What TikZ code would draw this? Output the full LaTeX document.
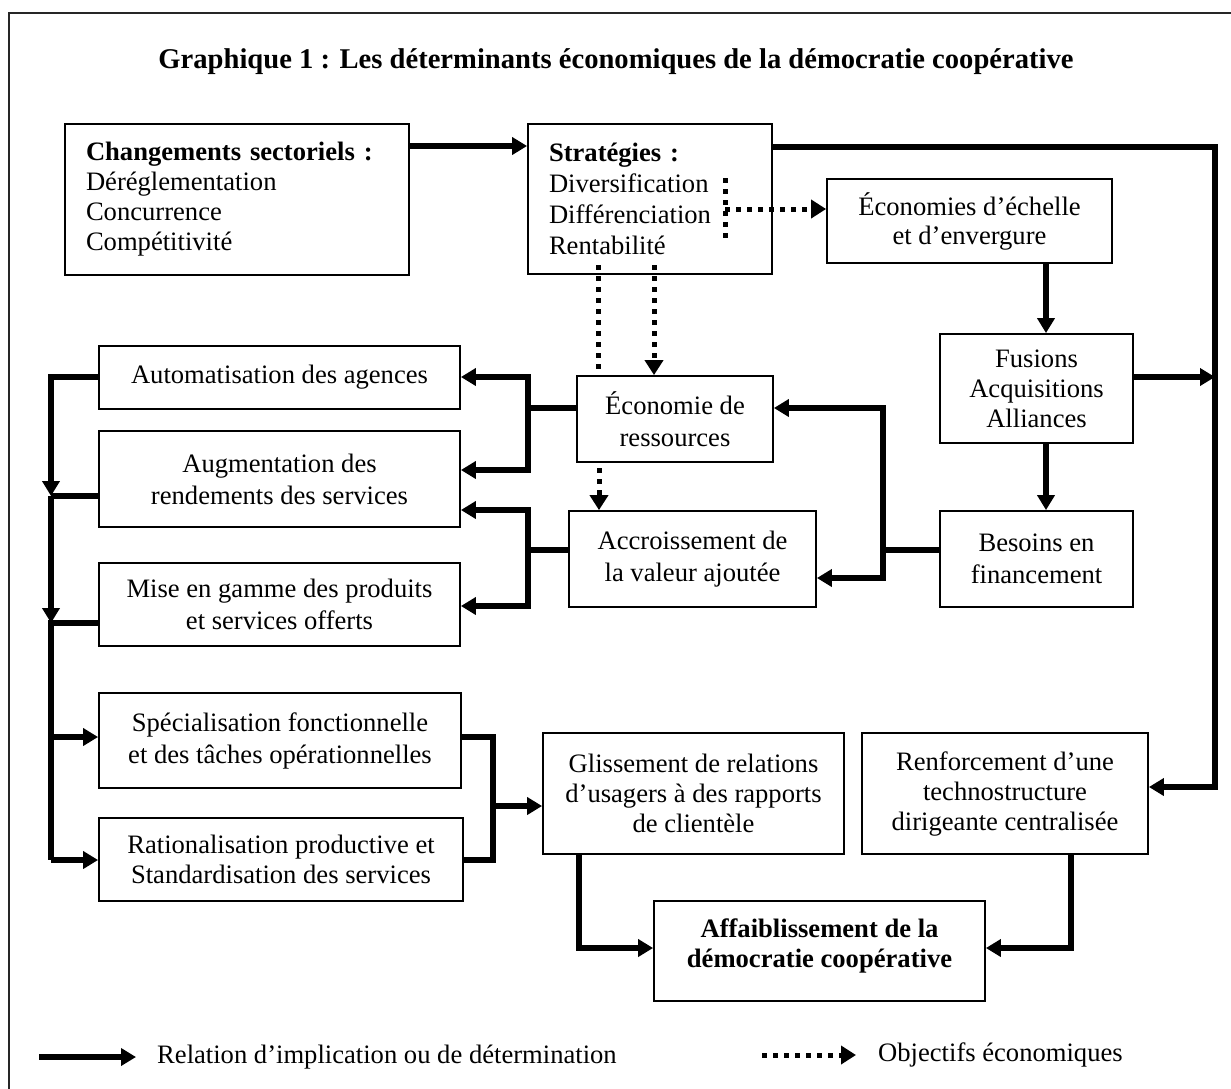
\documentclass[tikz,border=0pt]{standalone}
\usepackage{fontspec}
\setmainfont{Liberation Serif}
\usetikzlibrary{arrows.meta}

\begin{document}
\begin{tikzpicture}[x=1pt, y=-1pt,
    box/.style={draw, line width=1.8pt, align=center, inner sep=0pt,
      font=\fontsize{26.6pt}{32pt}\selectfont},
    boxg/.style={box, align=left, inner xsep=21pt},
    trait/.style={line width=5.5pt},
    imp/.style={trait, -{Triangle[length=15pt,width=17pt]}},
    objtrait/.style={line width=5pt, dash pattern=on 5pt off 6pt},
    obj/.style={objtrait, -{Triangle[length=15pt,width=18pt]}},
    legende/.style={anchor=west, inner sep=0pt, font=\fontsize{26.6pt}{32pt}\selectfont}]

    \def\xg{51}   % bus gauche
    \def\xd{1215} % bus droit
    \def\xm{528}
    \def\xb{883}
    \def\xr{493}

    \useasboundingbox (0,0) rectangle (1231,1088);
    \draw[line width=1.8pt, black!85] (9,1095) -- (9,13) -- (1240,13);

    \node[font=\bfseries\fontsize{28.6pt}{33pt}\selectfont] (titre) at (616,62)
      {Graphique 1 : Les déterminants économiques de la démocratie coopérative};

    % boites
    \node[boxg, text width=302pt, minimum height=151pt] (chg) at (237,199.5)
      {\textbf{Changements sectoriels :}\\[-2pt]Déréglementation\\[-2pt]Concurrence\\[-2pt]Compétitivité};
    \node[boxg, text width=202pt, minimum height=150pt] (strat) at (650,199)
      {\textbf{Stratégies :}\\[-1pt]Diversification\\[-1pt]Différenciation\\[-1pt]Rentabilité};
    \node[box, minimum width=285pt, minimum height=84pt] (echelle) at (969.5,221)
      {Économies d’échelle\\[-3pt]et d’envergure};
    \node[box, minimum width=193pt, minimum height=109pt] (fusions) at (1036.5,388.5)
      {Fusions\\[-2pt]Acquisitions\\[-2pt]Alliances};
    \node[box, minimum width=361pt, minimum height=63pt] (auto) at (279.5,377.5)
      {Automatisation des agences};
    \node[box, minimum width=361pt, minimum height=96pt] (augm) at (279.5,479)
      {Augmentation des\\rendements des services};
    \node[box, minimum width=361pt, minimum height=83pt] (gamme) at (279.5,604.5)
      {Mise en gamme des produits\\et services offerts};
    \node[box, minimum width=196pt, minimum height=86pt] (ressources) at (675,419)
      {Économie de\\ressources};
    \node[box, minimum width=247pt, minimum height=96pt] (valeur) at (692.5,559)
      {Accroissement de\\la valeur ajoutée};
    \node[box, minimum width=193pt, minimum height=96pt] (besoins) at (1036.5,559)
      {Besoins en\\financement};
    \node[box, minimum width=362pt, minimum height=95pt] (specia) at (280,740.5)
      {Spécialisation fonctionnelle\\et des tâches opérationnelles};
    \node[box, minimum width=364pt, minimum height=83pt] (ration) at (281,859.5)
      {Rationalisation productive et\\[-2pt]Standardisation des services};
    \node[box, minimum width=301pt, minimum height=121pt] (gliss) at (693.5,793.5)
      {Glissement de relations\\[-2pt]d’usagers à des rapports\\[-2pt]de clientèle};
    \node[box, minimum width=286pt, minimum height=121pt] (renf) at (1005,793.5)
      {Renforcement d’une\\[-2pt]technostructure\\[-2pt]dirigeante centralisée};
    \node[box, minimum width=331pt, minimum height=100pt, font=\bfseries\fontsize{26.6pt}{30pt}\selectfont] (affai) at (819.5,951)
      {Affaiblissement de la\\démocratie coopérative\\[-14pt]};

    % relations d'implication
    \draw[imp] (chg.east |- 0,146) -- (strat.west |- 0,146);
    \draw[imp] (strat.east |- 0,147) -| (\xd,787) -- (renf.east |- 0,787);
    \draw[imp] (fusions.east |- 0,377) -- (\xd,377);
    \draw[imp] (echelle.south -| 1046,0) -- (fusions.north -| 1046,0);
    \draw[imp] (fusions.south -| 1046,0) -- (besoins.north -| 1046,0);

    \draw[trait] (besoins.west |- 0,550) -- (\xb,550);
    \draw[imp] (\xb,550) |- (ressources.east |- 0,408);
    \draw[imp] (\xb,550) |- (valeur.east |- 0,578);

    \draw[trait] (ressources.west |- 0,408) -- (\xm,408);
    \draw[imp] (\xm,408) |- (auto.east |- 0,377);
    \draw[imp] (\xm,408) |- (augm.east |- 0,470);
    \draw[trait] (valeur.west |- 0,550) -- (\xm,550);
    \draw[imp] (\xm,550) |- (augm.east |- 0,510);
    \draw[imp] (\xm,550) |- (gamme.east |- 0,606);

    \draw[imp] (auto.west |- 0,377) -| (\xg,496);
    \draw[trait] (augm.west |- 0,496) -- (\xg,496);
    \draw[imp] (\xg,496) -- (\xg,623);
    \draw[trait] (gamme.west |- 0,623) -| (\xg,860);
    \draw[imp] (\xg,737) -- (specia.west |- 0,737);
    \draw[imp] (\xg,860) -- (ration.west |- 0,860);

    \draw[trait] (specia.east |- 0,737) -| (\xr,860) -- (ration.east |- 0,860);
    \draw[imp] (\xr,806) -- (gliss.west |- 0,806);
    \draw[imp] (gliss.south -| 579,0) |- (affai.west |- 0,948);
    \draw[imp] (renf.south -| 1071,0) |- (affai.east |- 0,948);

    % objectifs economiques
    \draw[objtrait] (725,178) -- (725,238);
    \draw[obj] (725,209) -- (echelle.west |- 0,209);
    \draw[objtrait] (598,265) -- (ressources.north -| 598,0);
    \draw[obj] (654,265) -- (ressources.north -| 654,0);
    \draw[obj] (599,468) -- (valeur.north -| 599,0);

    % legende
    \coordinate (l1a) at (39,1057);
    \coordinate (l1b) at (136,1057);
    \coordinate (l2a) at (762,1055);
    \coordinate (l2b) at (856,1055);
    \draw[imp] (l1a) -- (l1b);
    \node[legende] (leg1) at (157,1057) {Relation d’implication ou de détermination};
    \draw[obj] (l2a) -- (l2b);
    \node[legende] (leg2) at (878,1055) {Objectifs économiques};

\end{tikzpicture}
\end{document}
